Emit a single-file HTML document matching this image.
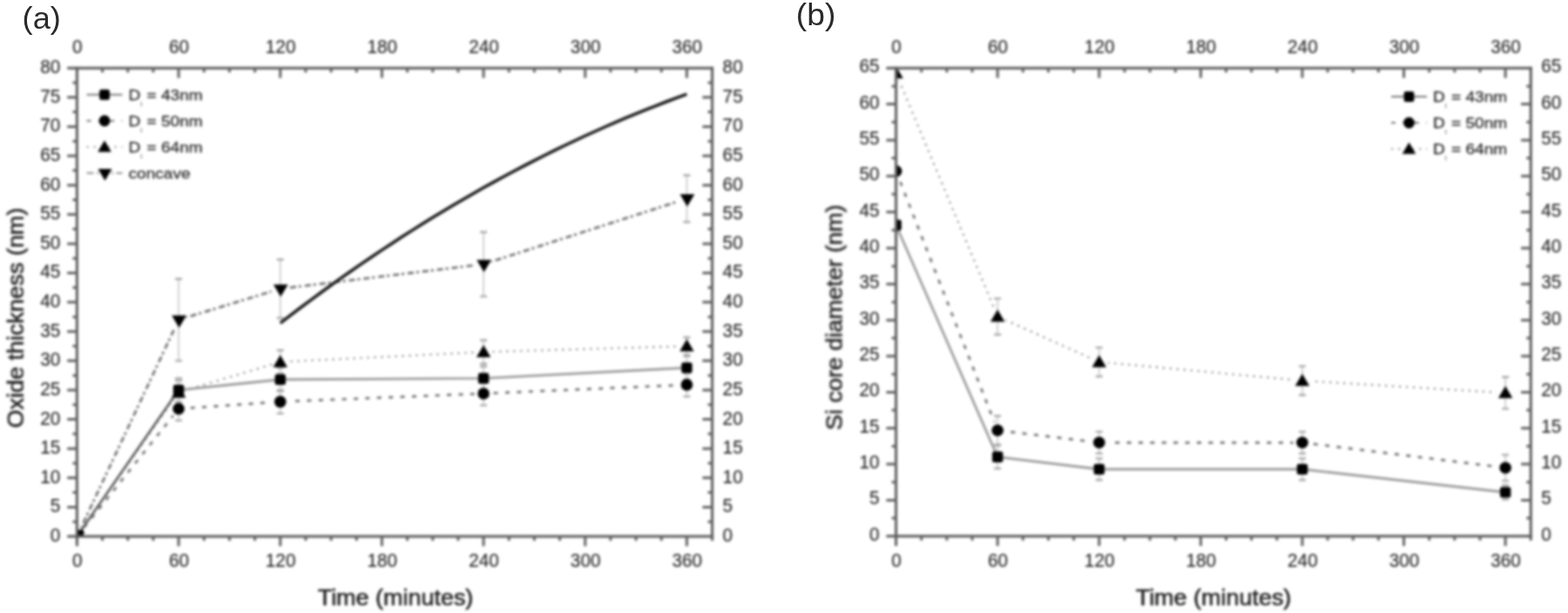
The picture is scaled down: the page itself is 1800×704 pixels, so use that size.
<!DOCTYPE html>
<html lang="en">
<head>
<meta charset="utf-8">
<title>Oxide thickness and Si core diameter vs. time</title>
<style>
html,body{margin:0;padding:0;background:#fff;}
body{width:1800px;height:704px;overflow:hidden;font-family:"Liberation Sans", sans-serif;}
svg{display:block;}
</style>
</head>
<body>
<svg width="1800" height="704" viewBox="0 0 1800 704">
<defs><filter id="b" x="0" y="0" width="1800" height="704" filterUnits="userSpaceOnUse" color-interpolation-filters="sRGB"><feGaussianBlur stdDeviation="1.6"/></filter>
<clipPath id="cb"><rect x="1028.6" y="78.2" width="728.7" height="537.6"/></clipPath>
<clipPath id="ca"><rect x="88.4" y="78.2" width="729.2" height="537.8"/></clipPath>
<filter id="bt" x="-20%" y="-30%" width="140%" height="160%" color-interpolation-filters="sRGB"><feGaussianBlur stdDeviation="0.5"/></filter>
</defs>
<g filter="url(#b)">
<rect x="-20" y="-20" width="1840" height="744" fill="#fff"/>
<g clip-path="url(#ca)">
<path d="M88.4 616L205.07 367.27L321.74 331.64L555.09 303.4L788.43 228.11" stroke="#707070" stroke-width="2.7" fill="none" stroke-dasharray="7 3 3 4"/>
<path d="M88.4 616L205.07 450.63L321.74 415.67L555.09 404.24L788.43 397.52" stroke="#8a8a8a" stroke-width="2.1" fill="none" stroke-dasharray="2.2 5.8"/>
<path d="M88.4 616L205.07 469.45L321.74 461.38L555.09 451.97L788.43 441.89" stroke="#707070" stroke-width="2.7" fill="none" stroke-dasharray="5 8.4"/>
<g fill="#fff"><circle cx="88.4" cy="619" r="10.5"/><circle cx="205.07" cy="370.27" r="10.5"/><circle cx="321.74" cy="334.64" r="10.5"/><circle cx="555.09" cy="306.4" r="10.5"/><circle cx="788.43" cy="231.11" r="10.5"/></g>
<g fill="#fff"><circle cx="88.4" cy="615" r="10.5"/><circle cx="205.07" cy="449.63" r="10.5"/><circle cx="321.74" cy="414.67" r="10.5"/><circle cx="555.09" cy="403.24" r="10.5"/><circle cx="788.43" cy="396.52" r="10.5"/></g>
<g fill="#fff"><circle cx="88.4" cy="616" r="10.5"/><circle cx="205.07" cy="469.45" r="10.5"/><circle cx="321.74" cy="461.38" r="10.5"/><circle cx="555.09" cy="451.97" r="10.5"/><circle cx="788.43" cy="441.89" r="10.5"/></g>
<path d="M205.07 320.21V414.33" stroke="#cdcdcd" stroke-width="1.8" fill="none"/><path d="M201.07 320.21h8M201.07 414.33h8" stroke="#a8a8a8" stroke-width="2.4" fill="none"/>
<path d="M321.74 298.03V365.25" stroke="#cdcdcd" stroke-width="1.8" fill="none"/><path d="M317.74 298.03h8M317.74 365.25h8" stroke="#a8a8a8" stroke-width="2.4" fill="none"/>
<path d="M555.09 266.43V340.38" stroke="#cdcdcd" stroke-width="1.8" fill="none"/><path d="M551.09 266.43h8M551.09 340.38h8" stroke="#a8a8a8" stroke-width="2.4" fill="none"/>
<path d="M788.43 201.22V255" stroke="#cdcdcd" stroke-width="1.8" fill="none"/><path d="M784.43 201.22h8M784.43 255h8" stroke="#a8a8a8" stroke-width="2.4" fill="none"/>
<path d="M205.07 437.18V464.07" stroke="#cdcdcd" stroke-width="1.8" fill="none"/><path d="M201.07 437.18h8M201.07 464.07h8" stroke="#a8a8a8" stroke-width="2.4" fill="none"/>
<path d="M321.74 402.22V429.11" stroke="#cdcdcd" stroke-width="1.8" fill="none"/><path d="M317.74 402.22h8M317.74 429.11h8" stroke="#a8a8a8" stroke-width="2.4" fill="none"/>
<path d="M555.09 390.8V417.69" stroke="#cdcdcd" stroke-width="1.8" fill="none"/><path d="M551.09 390.8h8M551.09 417.69h8" stroke="#a8a8a8" stroke-width="2.4" fill="none"/>
<path d="M788.43 387.44V407.6" stroke="#cdcdcd" stroke-width="1.8" fill="none"/><path d="M784.43 387.44h8M784.43 407.6h8" stroke="#a8a8a8" stroke-width="2.4" fill="none"/>
<path d="M205.07 456V482.89" stroke="#cdcdcd" stroke-width="1.8" fill="none"/><path d="M201.07 456h8M201.07 482.89h8" stroke="#a8a8a8" stroke-width="2.4" fill="none"/>
<path d="M321.74 447.94V474.83" stroke="#cdcdcd" stroke-width="1.8" fill="none"/><path d="M317.74 447.94h8M317.74 474.83h8" stroke="#a8a8a8" stroke-width="2.4" fill="none"/>
<path d="M555.09 438.53V465.42" stroke="#cdcdcd" stroke-width="1.8" fill="none"/><path d="M551.09 438.53h8M551.09 465.42h8" stroke="#a8a8a8" stroke-width="2.4" fill="none"/>
<path d="M788.43 428.44V455.33" stroke="#cdcdcd" stroke-width="1.8" fill="none"/><path d="M784.43 428.44h8M784.43 455.33h8" stroke="#a8a8a8" stroke-width="2.4" fill="none"/>
<path d="M205.07 434.49V461.38" stroke="#cdcdcd" stroke-width="1.8" fill="none"/><path d="M201.07 434.49h8M201.07 461.38h8" stroke="#a8a8a8" stroke-width="2.4" fill="none"/>
<path d="M321.74 422.39V449.28" stroke="#cdcdcd" stroke-width="1.8" fill="none"/><path d="M317.74 422.39h8M317.74 449.28h8" stroke="#a8a8a8" stroke-width="2.4" fill="none"/>
<path d="M555.09 421.05V447.94" stroke="#cdcdcd" stroke-width="1.8" fill="none"/><path d="M551.09 421.05h8M551.09 447.94h8" stroke="#a8a8a8" stroke-width="2.4" fill="none"/>
<path d="M788.43 408.95V435.84" stroke="#cdcdcd" stroke-width="1.8" fill="none"/><path d="M784.43 408.95h8M784.43 435.84h8" stroke="#a8a8a8" stroke-width="2.4" fill="none"/>
<path d="M88.4 616L205.07 447.94L321.74 435.84L555.09 434.49L788.43 422.39" stroke="#959595" stroke-width="2.6" fill="none"/>
<g fill="#000"><path d="M88.9 625.2L97.3 611H80.5Z"/><path d="M205.57 376.47L213.97 362.27H197.17Z"/><path d="M322.24 340.84L330.64 326.64H313.84Z"/><path d="M555.59 312.6L563.99 298.4H547.19Z"/><path d="M788.93 237.31L797.33 223.11H780.53Z"/></g>
<g fill="#000"><path d="M88.4 608L96.6 622H80.2Z"/><path d="M205.07 442.63L213.27 456.63H196.87Z"/><path d="M321.74 407.67L329.94 421.67H313.54Z"/><path d="M555.09 396.24L563.29 410.24H546.89Z"/><path d="M788.43 389.52L796.63 403.52H780.23Z"/></g>
<g fill="#000"><circle cx="88.4" cy="616" r="6.8"/><circle cx="205.07" cy="469.45" r="6.8"/><circle cx="321.74" cy="461.38" r="6.8"/><circle cx="555.09" cy="451.97" r="6.8"/><circle cx="788.43" cy="441.89" r="6.8"/></g>
<g fill="#000"><rect x="82.2" y="609.8" width="12.4" height="12.4" rx="2.5"/><rect x="198.87" y="441.74" width="12.4" height="12.4" rx="2.5"/><rect x="315.54" y="429.64" width="12.4" height="12.4" rx="2.5"/><rect x="548.89" y="428.29" width="12.4" height="12.4" rx="2.5"/><rect x="782.23" y="416.19" width="12.4" height="12.4" rx="2.5"/></g>
<path d="M88.4 616L199.24 456.34" stroke="#555" stroke-width="2.2" fill="none"/>
<rect x="88.4" y="608.4" width="7.6" height="7.6" rx="1.5" fill="#000"/>
<path d="M321.74 371.07L333.41 362.1L345.08 353.27L356.75 344.56L368.41 335.98L380.08 327.52L391.75 319.2L403.41 310.99L415.08 302.91L426.75 294.96L438.42 287.13L450.08 279.42L461.75 271.84L473.42 264.38L485.08 257.05L496.75 249.83L508.42 242.74L520.09 235.77L531.75 228.92L543.42 222.19L555.09 215.58L566.76 209.1L578.42 202.73L590.09 196.48L601.76 190.35L613.42 184.33L625.09 178.44L636.76 172.66L648.43 167L660.09 161.46L671.76 156.03L683.43 150.72L695.09 145.52L706.76 140.44L718.43 135.47L730.1 130.62L741.76 125.88L753.43 121.26L765.1 116.75L776.76 112.35L788.43 108.06" stroke="#161616" stroke-width="3.5" fill="none"/>
</g>
<g stroke="#5a5a5a" stroke-width="3.0" fill="none" stroke-linecap="butt">
<path d="M77.2 78.2H819.1"/>
<path d="M77.2 616H819.1"/>
<path d="M88.4 76.7V627.2"/>
<path d="M817.6 76.7V621"/>
</g>
<g stroke="#626262" stroke-width="3.0" fill="none">
<path d="M117.57 78.2v5M117.57 616v5M146.74 78.2v5M146.74 616v5M175.9 78.2v5M175.9 616v5M205.07 78.2v11.2M205.07 616v11.2M234.24 78.2v5M234.24 616v5M263.41 78.2v5M263.41 616v5M292.58 78.2v5M292.58 616v5M321.74 78.2v11.2M321.74 616v11.2M350.91 78.2v5M350.91 616v5M380.08 78.2v5M380.08 616v5M409.25 78.2v5M409.25 616v5M438.42 78.2v11.2M438.42 616v11.2M467.58 78.2v5M467.58 616v5M496.75 78.2v5M496.75 616v5M525.92 78.2v5M525.92 616v5M555.09 78.2v11.2M555.09 616v11.2M584.26 78.2v5M584.26 616v5M613.42 78.2v5M613.42 616v5M642.59 78.2v5M642.59 616v5M671.76 78.2v11.2M671.76 616v11.2M700.93 78.2v5M700.93 616v5M730.1 78.2v5M730.1 616v5M759.26 78.2v5M759.26 616v5M788.43 78.2v11.2M788.43 616v11.2M88.4 599.19h-5M817.6 599.19h-5M88.4 582.39h-11.2M817.6 582.39h-11.2M88.4 565.58h-5M817.6 565.58h-5M88.4 548.77h-11.2M817.6 548.77h-11.2M88.4 531.97h-5M817.6 531.97h-5M88.4 515.16h-11.2M817.6 515.16h-11.2M88.4 498.36h-5M817.6 498.36h-5M88.4 481.55h-11.2M817.6 481.55h-11.2M88.4 464.74h-5M817.6 464.74h-5M88.4 447.94h-11.2M817.6 447.94h-11.2M88.4 431.13h-5M817.6 431.13h-5M88.4 414.33h-11.2M817.6 414.33h-11.2M88.4 397.52h-5M817.6 397.52h-5M88.4 380.71h-11.2M817.6 380.71h-11.2M88.4 363.91h-5M817.6 363.91h-5M88.4 347.1h-11.2M817.6 347.1h-11.2M88.4 330.29h-5M817.6 330.29h-5M88.4 313.49h-11.2M817.6 313.49h-11.2M88.4 296.68h-5M817.6 296.68h-5M88.4 279.88h-11.2M817.6 279.88h-11.2M88.4 263.07h-5M817.6 263.07h-5M88.4 246.26h-11.2M817.6 246.26h-11.2M88.4 229.46h-5M817.6 229.46h-5M88.4 212.65h-11.2M817.6 212.65h-11.2M88.4 195.84h-5M817.6 195.84h-5M88.4 179.04h-11.2M817.6 179.04h-11.2M88.4 162.23h-5M817.6 162.23h-5M88.4 145.43h-11.2M817.6 145.43h-11.2M88.4 128.62h-5M817.6 128.62h-5M88.4 111.81h-11.2M817.6 111.81h-11.2M88.4 95.01h-5M817.6 95.01h-5"/>
</g>
<text filter="url(#bt)" transform="translate(88.8 61) scale(0.935 1)" text-anchor="middle" font-family='"Liberation Sans", sans-serif' font-size="22.2" fill="#222" stroke="#222" stroke-width="0.15" stroke-linejoin="round">0</text>
<text filter="url(#bt)" transform="translate(88.8 651.2) scale(0.935 1)" text-anchor="middle" font-family='"Liberation Sans", sans-serif' font-size="22.2" fill="#222" stroke="#222" stroke-width="0.15" stroke-linejoin="round">0</text>
<text filter="url(#bt)" transform="translate(205.47 61) scale(0.935 1)" text-anchor="middle" font-family='"Liberation Sans", sans-serif' font-size="22.2" fill="#222" stroke="#222" stroke-width="0.15" stroke-linejoin="round">60</text>
<text filter="url(#bt)" transform="translate(205.47 651.2) scale(0.935 1)" text-anchor="middle" font-family='"Liberation Sans", sans-serif' font-size="22.2" fill="#222" stroke="#222" stroke-width="0.15" stroke-linejoin="round">60</text>
<text filter="url(#bt)" transform="translate(322.14 61) scale(0.935 1)" text-anchor="middle" font-family='"Liberation Sans", sans-serif' font-size="22.2" fill="#222" stroke="#222" stroke-width="0.15" stroke-linejoin="round">120</text>
<text filter="url(#bt)" transform="translate(322.14 651.2) scale(0.935 1)" text-anchor="middle" font-family='"Liberation Sans", sans-serif' font-size="22.2" fill="#222" stroke="#222" stroke-width="0.15" stroke-linejoin="round">120</text>
<text filter="url(#bt)" transform="translate(438.82 61) scale(0.935 1)" text-anchor="middle" font-family='"Liberation Sans", sans-serif' font-size="22.2" fill="#222" stroke="#222" stroke-width="0.15" stroke-linejoin="round">180</text>
<text filter="url(#bt)" transform="translate(438.82 651.2) scale(0.935 1)" text-anchor="middle" font-family='"Liberation Sans", sans-serif' font-size="22.2" fill="#222" stroke="#222" stroke-width="0.15" stroke-linejoin="round">180</text>
<text filter="url(#bt)" transform="translate(555.49 61) scale(0.935 1)" text-anchor="middle" font-family='"Liberation Sans", sans-serif' font-size="22.2" fill="#222" stroke="#222" stroke-width="0.15" stroke-linejoin="round">240</text>
<text filter="url(#bt)" transform="translate(555.49 651.2) scale(0.935 1)" text-anchor="middle" font-family='"Liberation Sans", sans-serif' font-size="22.2" fill="#222" stroke="#222" stroke-width="0.15" stroke-linejoin="round">240</text>
<text filter="url(#bt)" transform="translate(672.16 61) scale(0.935 1)" text-anchor="middle" font-family='"Liberation Sans", sans-serif' font-size="22.2" fill="#222" stroke="#222" stroke-width="0.15" stroke-linejoin="round">300</text>
<text filter="url(#bt)" transform="translate(672.16 651.2) scale(0.935 1)" text-anchor="middle" font-family='"Liberation Sans", sans-serif' font-size="22.2" fill="#222" stroke="#222" stroke-width="0.15" stroke-linejoin="round">300</text>
<text filter="url(#bt)" transform="translate(788.83 61) scale(0.935 1)" text-anchor="middle" font-family='"Liberation Sans", sans-serif' font-size="22.2" fill="#222" stroke="#222" stroke-width="0.15" stroke-linejoin="round">360</text>
<text filter="url(#bt)" transform="translate(788.83 651.2) scale(0.935 1)" text-anchor="middle" font-family='"Liberation Sans", sans-serif' font-size="22.2" fill="#222" stroke="#222" stroke-width="0.15" stroke-linejoin="round">360</text>
<text filter="url(#bt)" transform="translate(69.4 621.95) scale(0.935 1)" text-anchor="end" font-family='"Liberation Sans", sans-serif' font-size="22.2" fill="#222" stroke="#222" stroke-width="0.15" stroke-linejoin="round">0</text>
<text filter="url(#bt)" transform="translate(829.6 621.95) scale(0.935 1)" text-anchor="start" font-family='"Liberation Sans", sans-serif' font-size="22.2" fill="#222" stroke="#222" stroke-width="0.15" stroke-linejoin="round">0</text>
<text filter="url(#bt)" transform="translate(69.4 588.34) scale(0.935 1)" text-anchor="end" font-family='"Liberation Sans", sans-serif' font-size="22.2" fill="#222" stroke="#222" stroke-width="0.15" stroke-linejoin="round">5</text>
<text filter="url(#bt)" transform="translate(829.6 588.34) scale(0.935 1)" text-anchor="start" font-family='"Liberation Sans", sans-serif' font-size="22.2" fill="#222" stroke="#222" stroke-width="0.15" stroke-linejoin="round">5</text>
<text filter="url(#bt)" transform="translate(69.4 554.72) scale(0.935 1)" text-anchor="end" font-family='"Liberation Sans", sans-serif' font-size="22.2" fill="#222" stroke="#222" stroke-width="0.15" stroke-linejoin="round">10</text>
<text filter="url(#bt)" transform="translate(829.6 554.72) scale(0.935 1)" text-anchor="start" font-family='"Liberation Sans", sans-serif' font-size="22.2" fill="#222" stroke="#222" stroke-width="0.15" stroke-linejoin="round">10</text>
<text filter="url(#bt)" transform="translate(69.4 521.11) scale(0.935 1)" text-anchor="end" font-family='"Liberation Sans", sans-serif' font-size="22.2" fill="#222" stroke="#222" stroke-width="0.15" stroke-linejoin="round">15</text>
<text filter="url(#bt)" transform="translate(829.6 521.11) scale(0.935 1)" text-anchor="start" font-family='"Liberation Sans", sans-serif' font-size="22.2" fill="#222" stroke="#222" stroke-width="0.15" stroke-linejoin="round">15</text>
<text filter="url(#bt)" transform="translate(69.4 487.5) scale(0.935 1)" text-anchor="end" font-family='"Liberation Sans", sans-serif' font-size="22.2" fill="#222" stroke="#222" stroke-width="0.15" stroke-linejoin="round">20</text>
<text filter="url(#bt)" transform="translate(829.6 487.5) scale(0.935 1)" text-anchor="start" font-family='"Liberation Sans", sans-serif' font-size="22.2" fill="#222" stroke="#222" stroke-width="0.15" stroke-linejoin="round">20</text>
<text filter="url(#bt)" transform="translate(69.4 453.89) scale(0.935 1)" text-anchor="end" font-family='"Liberation Sans", sans-serif' font-size="22.2" fill="#222" stroke="#222" stroke-width="0.15" stroke-linejoin="round">25</text>
<text filter="url(#bt)" transform="translate(829.6 453.89) scale(0.935 1)" text-anchor="start" font-family='"Liberation Sans", sans-serif' font-size="22.2" fill="#222" stroke="#222" stroke-width="0.15" stroke-linejoin="round">25</text>
<text filter="url(#bt)" transform="translate(69.4 420.27) scale(0.935 1)" text-anchor="end" font-family='"Liberation Sans", sans-serif' font-size="22.2" fill="#222" stroke="#222" stroke-width="0.15" stroke-linejoin="round">30</text>
<text filter="url(#bt)" transform="translate(829.6 420.27) scale(0.935 1)" text-anchor="start" font-family='"Liberation Sans", sans-serif' font-size="22.2" fill="#222" stroke="#222" stroke-width="0.15" stroke-linejoin="round">30</text>
<text filter="url(#bt)" transform="translate(69.4 386.66) scale(0.935 1)" text-anchor="end" font-family='"Liberation Sans", sans-serif' font-size="22.2" fill="#222" stroke="#222" stroke-width="0.15" stroke-linejoin="round">35</text>
<text filter="url(#bt)" transform="translate(829.6 386.66) scale(0.935 1)" text-anchor="start" font-family='"Liberation Sans", sans-serif' font-size="22.2" fill="#222" stroke="#222" stroke-width="0.15" stroke-linejoin="round">35</text>
<text filter="url(#bt)" transform="translate(69.4 353.05) scale(0.935 1)" text-anchor="end" font-family='"Liberation Sans", sans-serif' font-size="22.2" fill="#222" stroke="#222" stroke-width="0.15" stroke-linejoin="round">40</text>
<text filter="url(#bt)" transform="translate(829.6 353.05) scale(0.935 1)" text-anchor="start" font-family='"Liberation Sans", sans-serif' font-size="22.2" fill="#222" stroke="#222" stroke-width="0.15" stroke-linejoin="round">40</text>
<text filter="url(#bt)" transform="translate(69.4 319.44) scale(0.935 1)" text-anchor="end" font-family='"Liberation Sans", sans-serif' font-size="22.2" fill="#222" stroke="#222" stroke-width="0.15" stroke-linejoin="round">45</text>
<text filter="url(#bt)" transform="translate(829.6 319.44) scale(0.935 1)" text-anchor="start" font-family='"Liberation Sans", sans-serif' font-size="22.2" fill="#222" stroke="#222" stroke-width="0.15" stroke-linejoin="round">45</text>
<text filter="url(#bt)" transform="translate(69.4 285.82) scale(0.935 1)" text-anchor="end" font-family='"Liberation Sans", sans-serif' font-size="22.2" fill="#222" stroke="#222" stroke-width="0.15" stroke-linejoin="round">50</text>
<text filter="url(#bt)" transform="translate(829.6 285.82) scale(0.935 1)" text-anchor="start" font-family='"Liberation Sans", sans-serif' font-size="22.2" fill="#222" stroke="#222" stroke-width="0.15" stroke-linejoin="round">50</text>
<text filter="url(#bt)" transform="translate(69.4 252.21) scale(0.935 1)" text-anchor="end" font-family='"Liberation Sans", sans-serif' font-size="22.2" fill="#222" stroke="#222" stroke-width="0.15" stroke-linejoin="round">55</text>
<text filter="url(#bt)" transform="translate(829.6 252.21) scale(0.935 1)" text-anchor="start" font-family='"Liberation Sans", sans-serif' font-size="22.2" fill="#222" stroke="#222" stroke-width="0.15" stroke-linejoin="round">55</text>
<text filter="url(#bt)" transform="translate(69.4 218.6) scale(0.935 1)" text-anchor="end" font-family='"Liberation Sans", sans-serif' font-size="22.2" fill="#222" stroke="#222" stroke-width="0.15" stroke-linejoin="round">60</text>
<text filter="url(#bt)" transform="translate(829.6 218.6) scale(0.935 1)" text-anchor="start" font-family='"Liberation Sans", sans-serif' font-size="22.2" fill="#222" stroke="#222" stroke-width="0.15" stroke-linejoin="round">60</text>
<text filter="url(#bt)" transform="translate(69.4 184.99) scale(0.935 1)" text-anchor="end" font-family='"Liberation Sans", sans-serif' font-size="22.2" fill="#222" stroke="#222" stroke-width="0.15" stroke-linejoin="round">65</text>
<text filter="url(#bt)" transform="translate(829.6 184.99) scale(0.935 1)" text-anchor="start" font-family='"Liberation Sans", sans-serif' font-size="22.2" fill="#222" stroke="#222" stroke-width="0.15" stroke-linejoin="round">65</text>
<text filter="url(#bt)" transform="translate(69.4 151.37) scale(0.935 1)" text-anchor="end" font-family='"Liberation Sans", sans-serif' font-size="22.2" fill="#222" stroke="#222" stroke-width="0.15" stroke-linejoin="round">70</text>
<text filter="url(#bt)" transform="translate(829.6 151.37) scale(0.935 1)" text-anchor="start" font-family='"Liberation Sans", sans-serif' font-size="22.2" fill="#222" stroke="#222" stroke-width="0.15" stroke-linejoin="round">70</text>
<text filter="url(#bt)" transform="translate(69.4 117.76) scale(0.935 1)" text-anchor="end" font-family='"Liberation Sans", sans-serif' font-size="22.2" fill="#222" stroke="#222" stroke-width="0.15" stroke-linejoin="round">75</text>
<text filter="url(#bt)" transform="translate(829.6 117.76) scale(0.935 1)" text-anchor="start" font-family='"Liberation Sans", sans-serif' font-size="22.2" fill="#222" stroke="#222" stroke-width="0.15" stroke-linejoin="round">75</text>
<text filter="url(#bt)" transform="translate(69.4 84.15) scale(0.935 1)" text-anchor="end" font-family='"Liberation Sans", sans-serif' font-size="22.2" fill="#222" stroke="#222" stroke-width="0.15" stroke-linejoin="round">80</text>
<text filter="url(#bt)" transform="translate(829.6 84.15) scale(0.935 1)" text-anchor="start" font-family='"Liberation Sans", sans-serif' font-size="22.2" fill="#222" stroke="#222" stroke-width="0.15" stroke-linejoin="round">80</text>
<path d="M99.5 108.75h41" stroke="#777" stroke-width="2" fill="none"/>
<g fill="#000"><rect x="114.11" y="102.86" width="11.78" height="11.78" rx="2.5"/></g>
<text filter="url(#bt)" transform="translate(147.5 115.15) scale(1.11 1)" text-anchor="start" font-family='"Liberation Sans", sans-serif' font-size="17.2" fill="#2a2a2a" stroke="#2a2a2a" stroke-width="0.3" stroke-linejoin="round">D<tspan font-size="8" fill-opacity="0.65" stroke-opacity="0.3" dy="7">i</tspan><tspan dy="-7"> = 43nm</tspan></text>
<path d="M99.5 138.75h41" stroke="#777" stroke-width="2" fill="none" stroke-dasharray="5 8.4"/>
<g fill="#000"><circle cx="120" cy="138.75" r="6.46"/></g>
<text filter="url(#bt)" transform="translate(147.5 145.15) scale(1.11 1)" text-anchor="start" font-family='"Liberation Sans", sans-serif' font-size="17.2" fill="#2a2a2a" stroke="#2a2a2a" stroke-width="0.3" stroke-linejoin="round">D<tspan font-size="8" fill-opacity="0.65" stroke-opacity="0.3" dy="7">i</tspan><tspan dy="-7"> = 50nm</tspan></text>
<path d="M99.5 168.75h41" stroke="#999" stroke-width="2" fill="none" stroke-dasharray="2.2 5.8"/>
<g fill="#000"><path d="M120 161.15L127.79 174.45H112.21Z"/></g>
<text filter="url(#bt)" transform="translate(147.5 175.15) scale(1.11 1)" text-anchor="start" font-family='"Liberation Sans", sans-serif' font-size="17.2" fill="#2a2a2a" stroke="#2a2a2a" stroke-width="0.3" stroke-linejoin="round">D<tspan font-size="8" fill-opacity="0.65" stroke-opacity="0.3" dy="7">i</tspan><tspan dy="-7"> = 64nm</tspan></text>
<path d="M99.5 198.75h41" stroke="#909090" stroke-width="2" fill="none" stroke-dasharray="8 3.5 2 3.5"/>
<g fill="#000"><path d="M120.5 207.49L128.49 194H112.51Z"/></g>
<text filter="url(#bt)" transform="translate(147.5 205.15) scale(1.11 1)" text-anchor="start" font-family='"Liberation Sans", sans-serif' font-size="17.2" fill="#2a2a2a" stroke="#2a2a2a" stroke-width="0.3" stroke-linejoin="round">concave</text>
<text filter="url(#bt)" transform="translate(454 694.6) scale(1.07 1)" text-anchor="middle" font-family='"Liberation Sans", sans-serif' font-size="25.2" fill="#222" stroke="#222" stroke-width="0.6" stroke-linejoin="round">Time (minutes)</text>
<text filter="url(#bt)" transform="translate(26.7 365) rotate(-90) scale(1.07 1)" text-anchor="middle" font-family='"Liberation Sans", sans-serif' font-size="25.2" fill="#222" stroke="#222" stroke-width="0.6" stroke-linejoin="round">Oxide thickness (nm)</text>
<g clip-path="url(#cb)">
<path d="M1028.6 83.99L1145.19 363.54L1261.78 415.65L1494.97 437.15L1728.15 451.21" stroke="#8a8a8a" stroke-width="2.1" fill="none" stroke-dasharray="2.2 5.8"/>
<path d="M1028.6 196.47L1145.19 494.22L1261.78 508.28L1494.97 508.28L1728.15 537.23" stroke="#707070" stroke-width="2.7" fill="none" stroke-dasharray="5 8.4"/>
<g fill="#fff"><circle cx="1028.6" cy="82.99" r="10.5"/><circle cx="1145.19" cy="362.54" r="10.5"/><circle cx="1261.78" cy="414.65" r="10.5"/><circle cx="1494.97" cy="436.15" r="10.5"/><circle cx="1728.15" cy="450.21" r="10.5"/></g>
<g fill="#fff"><circle cx="1028.6" cy="196.47" r="10.5"/><circle cx="1145.19" cy="494.22" r="10.5"/><circle cx="1261.78" cy="508.28" r="10.5"/><circle cx="1494.97" cy="508.28" r="10.5"/><circle cx="1728.15" cy="537.23" r="10.5"/></g>
<path d="M1145.19 342.86V384.22" stroke="#cdcdcd" stroke-width="1.8" fill="none"/><path d="M1141.19 342.86h8M1141.19 384.22h8" stroke="#a8a8a8" stroke-width="2.4" fill="none"/>
<path d="M1261.78 399.11V432.19" stroke="#cdcdcd" stroke-width="1.8" fill="none"/><path d="M1257.78 399.11h8M1257.78 432.19h8" stroke="#a8a8a8" stroke-width="2.4" fill="none"/>
<path d="M1494.97 420.61V453.69" stroke="#cdcdcd" stroke-width="1.8" fill="none"/><path d="M1490.97 420.61h8M1490.97 453.69h8" stroke="#a8a8a8" stroke-width="2.4" fill="none"/>
<path d="M1728.15 433.02V469.41" stroke="#cdcdcd" stroke-width="1.8" fill="none"/><path d="M1724.15 433.02h8M1724.15 469.41h8" stroke="#a8a8a8" stroke-width="2.4" fill="none"/>
<path d="M1145.19 477.68V510.76" stroke="#cdcdcd" stroke-width="1.8" fill="none"/><path d="M1141.19 477.68h8M1141.19 510.76h8" stroke="#a8a8a8" stroke-width="2.4" fill="none"/>
<path d="M1261.78 495.87V520.69" stroke="#cdcdcd" stroke-width="1.8" fill="none"/><path d="M1257.78 495.87h8M1257.78 520.69h8" stroke="#a8a8a8" stroke-width="2.4" fill="none"/>
<path d="M1494.97 495.87V520.69" stroke="#cdcdcd" stroke-width="1.8" fill="none"/><path d="M1490.97 495.87h8M1490.97 520.69h8" stroke="#a8a8a8" stroke-width="2.4" fill="none"/>
<path d="M1728.15 522.34V552.12" stroke="#cdcdcd" stroke-width="1.8" fill="none"/><path d="M1724.15 522.34h8M1724.15 552.12h8" stroke="#a8a8a8" stroke-width="2.4" fill="none"/>
<path d="M1145.19 511.59V538.05" stroke="#cdcdcd" stroke-width="1.8" fill="none"/><path d="M1141.19 511.59h8M1141.19 538.05h8" stroke="#a8a8a8" stroke-width="2.4" fill="none"/>
<path d="M1261.78 526.48V551.29" stroke="#cdcdcd" stroke-width="1.8" fill="none"/><path d="M1257.78 526.48h8M1257.78 551.29h8" stroke="#a8a8a8" stroke-width="2.4" fill="none"/>
<path d="M1494.97 526.48V551.29" stroke="#cdcdcd" stroke-width="1.8" fill="none"/><path d="M1490.97 526.48h8M1490.97 551.29h8" stroke="#a8a8a8" stroke-width="2.4" fill="none"/>
<path d="M1728.15 557.08V573.62" stroke="#cdcdcd" stroke-width="1.8" fill="none"/><path d="M1724.15 557.08h8M1724.15 573.62h8" stroke="#a8a8a8" stroke-width="2.4" fill="none"/>
<path d="M1028.6 258.5L1145.19 524.82L1261.78 538.88L1494.97 538.88L1728.15 565.35" stroke="#959595" stroke-width="2.6" fill="none"/>
<g fill="#000"><path d="M1028.6 75.99L1036.8 89.99H1020.4Z"/><path d="M1145.19 355.54L1153.39 369.54H1136.99Z"/><path d="M1261.78 407.65L1269.98 421.65H1253.58Z"/><path d="M1494.97 429.15L1503.17 443.15H1486.77Z"/><path d="M1728.15 443.21L1736.35 457.21H1719.95Z"/></g>
<g fill="#000"><circle cx="1028.6" cy="196.47" r="6.8"/><circle cx="1145.19" cy="494.22" r="6.8"/><circle cx="1261.78" cy="508.28" r="6.8"/><circle cx="1494.97" cy="508.28" r="6.8"/><circle cx="1728.15" cy="537.23" r="6.8"/></g>
<g fill="#000"><rect x="1022.4" y="252.3" width="12.4" height="12.4" rx="2.5"/><rect x="1138.99" y="518.62" width="12.4" height="12.4" rx="2.5"/><rect x="1255.58" y="532.68" width="12.4" height="12.4" rx="2.5"/><rect x="1488.77" y="532.68" width="12.4" height="12.4" rx="2.5"/><rect x="1721.95" y="559.15" width="12.4" height="12.4" rx="2.5"/></g>
</g>
<g stroke="#5a5a5a" stroke-width="3.0" fill="none" stroke-linecap="butt">
<path d="M1017.4 78.2H1758.8"/>
<path d="M1017.4 615.8H1758.8"/>
<path d="M1028.6 76.7V627"/>
<path d="M1757.3 76.7V620.8"/>
</g>
<g stroke="#626262" stroke-width="3.0" fill="none">
<path d="M1057.75 78.2v5M1057.75 615.8v5M1086.9 78.2v5M1086.9 615.8v5M1116.04 78.2v5M1116.04 615.8v5M1145.19 78.2v11.2M1145.19 615.8v11.2M1174.34 78.2v5M1174.34 615.8v5M1203.49 78.2v5M1203.49 615.8v5M1232.64 78.2v5M1232.64 615.8v5M1261.78 78.2v11.2M1261.78 615.8v11.2M1290.93 78.2v5M1290.93 615.8v5M1320.08 78.2v5M1320.08 615.8v5M1349.23 78.2v5M1349.23 615.8v5M1378.38 78.2v11.2M1378.38 615.8v11.2M1407.52 78.2v5M1407.52 615.8v5M1436.67 78.2v5M1436.67 615.8v5M1465.82 78.2v5M1465.82 615.8v5M1494.97 78.2v11.2M1494.97 615.8v11.2M1524.12 78.2v5M1524.12 615.8v5M1553.26 78.2v5M1553.26 615.8v5M1582.41 78.2v5M1582.41 615.8v5M1611.56 78.2v11.2M1611.56 615.8v11.2M1640.71 78.2v5M1640.71 615.8v5M1669.86 78.2v5M1669.86 615.8v5M1699 78.2v5M1699 615.8v5M1728.15 78.2v11.2M1728.15 615.8v11.2M1028.6 595.12h-5M1757.3 595.12h-5M1028.6 574.45h-11.2M1757.3 574.45h-11.2M1028.6 553.77h-5M1757.3 553.77h-5M1028.6 533.09h-11.2M1757.3 533.09h-11.2M1028.6 512.42h-5M1757.3 512.42h-5M1028.6 491.74h-11.2M1757.3 491.74h-11.2M1028.6 471.06h-5M1757.3 471.06h-5M1028.6 450.38h-11.2M1757.3 450.38h-11.2M1028.6 429.71h-5M1757.3 429.71h-5M1028.6 409.03h-11.2M1757.3 409.03h-11.2M1028.6 388.35h-5M1757.3 388.35h-5M1028.6 367.68h-11.2M1757.3 367.68h-11.2M1028.6 347h-5M1757.3 347h-5M1028.6 326.32h-11.2M1757.3 326.32h-11.2M1028.6 305.65h-5M1757.3 305.65h-5M1028.6 284.97h-11.2M1757.3 284.97h-11.2M1028.6 264.29h-5M1757.3 264.29h-5M1028.6 243.62h-11.2M1757.3 243.62h-11.2M1028.6 222.94h-5M1757.3 222.94h-5M1028.6 202.26h-11.2M1757.3 202.26h-11.2M1028.6 181.58h-5M1757.3 181.58h-5M1028.6 160.91h-11.2M1757.3 160.91h-11.2M1028.6 140.23h-5M1757.3 140.23h-5M1028.6 119.55h-11.2M1757.3 119.55h-11.2M1028.6 98.88h-5M1757.3 98.88h-5"/>
</g>
<text filter="url(#bt)" transform="translate(1029 61) scale(0.935 1)" text-anchor="middle" font-family='"Liberation Sans", sans-serif' font-size="22.2" fill="#222" stroke="#222" stroke-width="0.15" stroke-linejoin="round">0</text>
<text filter="url(#bt)" transform="translate(1029 651) scale(0.935 1)" text-anchor="middle" font-family='"Liberation Sans", sans-serif' font-size="22.2" fill="#222" stroke="#222" stroke-width="0.15" stroke-linejoin="round">0</text>
<text filter="url(#bt)" transform="translate(1145.59 61) scale(0.935 1)" text-anchor="middle" font-family='"Liberation Sans", sans-serif' font-size="22.2" fill="#222" stroke="#222" stroke-width="0.15" stroke-linejoin="round">60</text>
<text filter="url(#bt)" transform="translate(1145.59 651) scale(0.935 1)" text-anchor="middle" font-family='"Liberation Sans", sans-serif' font-size="22.2" fill="#222" stroke="#222" stroke-width="0.15" stroke-linejoin="round">60</text>
<text filter="url(#bt)" transform="translate(1262.18 61) scale(0.935 1)" text-anchor="middle" font-family='"Liberation Sans", sans-serif' font-size="22.2" fill="#222" stroke="#222" stroke-width="0.15" stroke-linejoin="round">120</text>
<text filter="url(#bt)" transform="translate(1262.18 651) scale(0.935 1)" text-anchor="middle" font-family='"Liberation Sans", sans-serif' font-size="22.2" fill="#222" stroke="#222" stroke-width="0.15" stroke-linejoin="round">120</text>
<text filter="url(#bt)" transform="translate(1378.78 61) scale(0.935 1)" text-anchor="middle" font-family='"Liberation Sans", sans-serif' font-size="22.2" fill="#222" stroke="#222" stroke-width="0.15" stroke-linejoin="round">180</text>
<text filter="url(#bt)" transform="translate(1378.78 651) scale(0.935 1)" text-anchor="middle" font-family='"Liberation Sans", sans-serif' font-size="22.2" fill="#222" stroke="#222" stroke-width="0.15" stroke-linejoin="round">180</text>
<text filter="url(#bt)" transform="translate(1495.37 61) scale(0.935 1)" text-anchor="middle" font-family='"Liberation Sans", sans-serif' font-size="22.2" fill="#222" stroke="#222" stroke-width="0.15" stroke-linejoin="round">240</text>
<text filter="url(#bt)" transform="translate(1495.37 651) scale(0.935 1)" text-anchor="middle" font-family='"Liberation Sans", sans-serif' font-size="22.2" fill="#222" stroke="#222" stroke-width="0.15" stroke-linejoin="round">240</text>
<text filter="url(#bt)" transform="translate(1611.96 61) scale(0.935 1)" text-anchor="middle" font-family='"Liberation Sans", sans-serif' font-size="22.2" fill="#222" stroke="#222" stroke-width="0.15" stroke-linejoin="round">300</text>
<text filter="url(#bt)" transform="translate(1611.96 651) scale(0.935 1)" text-anchor="middle" font-family='"Liberation Sans", sans-serif' font-size="22.2" fill="#222" stroke="#222" stroke-width="0.15" stroke-linejoin="round">300</text>
<text filter="url(#bt)" transform="translate(1728.55 61) scale(0.935 1)" text-anchor="middle" font-family='"Liberation Sans", sans-serif' font-size="22.2" fill="#222" stroke="#222" stroke-width="0.15" stroke-linejoin="round">360</text>
<text filter="url(#bt)" transform="translate(1728.55 651) scale(0.935 1)" text-anchor="middle" font-family='"Liberation Sans", sans-serif' font-size="22.2" fill="#222" stroke="#222" stroke-width="0.15" stroke-linejoin="round">360</text>
<text filter="url(#bt)" transform="translate(1009.6 620.75) scale(0.935 1)" text-anchor="end" font-family='"Liberation Sans", sans-serif' font-size="22.2" fill="#222" stroke="#222" stroke-width="0.15" stroke-linejoin="round">0</text>
<text filter="url(#bt)" transform="translate(1769.3 620.75) scale(0.935 1)" text-anchor="start" font-family='"Liberation Sans", sans-serif' font-size="22.2" fill="#222" stroke="#222" stroke-width="0.15" stroke-linejoin="round">0</text>
<text filter="url(#bt)" transform="translate(1009.6 579.39) scale(0.935 1)" text-anchor="end" font-family='"Liberation Sans", sans-serif' font-size="22.2" fill="#222" stroke="#222" stroke-width="0.15" stroke-linejoin="round">5</text>
<text filter="url(#bt)" transform="translate(1769.3 579.39) scale(0.935 1)" text-anchor="start" font-family='"Liberation Sans", sans-serif' font-size="22.2" fill="#222" stroke="#222" stroke-width="0.15" stroke-linejoin="round">5</text>
<text filter="url(#bt)" transform="translate(1009.6 538.04) scale(0.935 1)" text-anchor="end" font-family='"Liberation Sans", sans-serif' font-size="22.2" fill="#222" stroke="#222" stroke-width="0.15" stroke-linejoin="round">10</text>
<text filter="url(#bt)" transform="translate(1769.3 538.04) scale(0.935 1)" text-anchor="start" font-family='"Liberation Sans", sans-serif' font-size="22.2" fill="#222" stroke="#222" stroke-width="0.15" stroke-linejoin="round">10</text>
<text filter="url(#bt)" transform="translate(1009.6 496.69) scale(0.935 1)" text-anchor="end" font-family='"Liberation Sans", sans-serif' font-size="22.2" fill="#222" stroke="#222" stroke-width="0.15" stroke-linejoin="round">15</text>
<text filter="url(#bt)" transform="translate(1769.3 496.69) scale(0.935 1)" text-anchor="start" font-family='"Liberation Sans", sans-serif' font-size="22.2" fill="#222" stroke="#222" stroke-width="0.15" stroke-linejoin="round">15</text>
<text filter="url(#bt)" transform="translate(1009.6 455.33) scale(0.935 1)" text-anchor="end" font-family='"Liberation Sans", sans-serif' font-size="22.2" fill="#222" stroke="#222" stroke-width="0.15" stroke-linejoin="round">20</text>
<text filter="url(#bt)" transform="translate(1769.3 455.33) scale(0.935 1)" text-anchor="start" font-family='"Liberation Sans", sans-serif' font-size="22.2" fill="#222" stroke="#222" stroke-width="0.15" stroke-linejoin="round">20</text>
<text filter="url(#bt)" transform="translate(1009.6 413.98) scale(0.935 1)" text-anchor="end" font-family='"Liberation Sans", sans-serif' font-size="22.2" fill="#222" stroke="#222" stroke-width="0.15" stroke-linejoin="round">25</text>
<text filter="url(#bt)" transform="translate(1769.3 413.98) scale(0.935 1)" text-anchor="start" font-family='"Liberation Sans", sans-serif' font-size="22.2" fill="#222" stroke="#222" stroke-width="0.15" stroke-linejoin="round">25</text>
<text filter="url(#bt)" transform="translate(1009.6 372.62) scale(0.935 1)" text-anchor="end" font-family='"Liberation Sans", sans-serif' font-size="22.2" fill="#222" stroke="#222" stroke-width="0.15" stroke-linejoin="round">30</text>
<text filter="url(#bt)" transform="translate(1769.3 372.62) scale(0.935 1)" text-anchor="start" font-family='"Liberation Sans", sans-serif' font-size="22.2" fill="#222" stroke="#222" stroke-width="0.15" stroke-linejoin="round">30</text>
<text filter="url(#bt)" transform="translate(1009.6 331.27) scale(0.935 1)" text-anchor="end" font-family='"Liberation Sans", sans-serif' font-size="22.2" fill="#222" stroke="#222" stroke-width="0.15" stroke-linejoin="round">35</text>
<text filter="url(#bt)" transform="translate(1769.3 331.27) scale(0.935 1)" text-anchor="start" font-family='"Liberation Sans", sans-serif' font-size="22.2" fill="#222" stroke="#222" stroke-width="0.15" stroke-linejoin="round">35</text>
<text filter="url(#bt)" transform="translate(1009.6 289.92) scale(0.935 1)" text-anchor="end" font-family='"Liberation Sans", sans-serif' font-size="22.2" fill="#222" stroke="#222" stroke-width="0.15" stroke-linejoin="round">40</text>
<text filter="url(#bt)" transform="translate(1769.3 289.92) scale(0.935 1)" text-anchor="start" font-family='"Liberation Sans", sans-serif' font-size="22.2" fill="#222" stroke="#222" stroke-width="0.15" stroke-linejoin="round">40</text>
<text filter="url(#bt)" transform="translate(1009.6 248.56) scale(0.935 1)" text-anchor="end" font-family='"Liberation Sans", sans-serif' font-size="22.2" fill="#222" stroke="#222" stroke-width="0.15" stroke-linejoin="round">45</text>
<text filter="url(#bt)" transform="translate(1769.3 248.56) scale(0.935 1)" text-anchor="start" font-family='"Liberation Sans", sans-serif' font-size="22.2" fill="#222" stroke="#222" stroke-width="0.15" stroke-linejoin="round">45</text>
<text filter="url(#bt)" transform="translate(1009.6 207.21) scale(0.935 1)" text-anchor="end" font-family='"Liberation Sans", sans-serif' font-size="22.2" fill="#222" stroke="#222" stroke-width="0.15" stroke-linejoin="round">50</text>
<text filter="url(#bt)" transform="translate(1769.3 207.21) scale(0.935 1)" text-anchor="start" font-family='"Liberation Sans", sans-serif' font-size="22.2" fill="#222" stroke="#222" stroke-width="0.15" stroke-linejoin="round">50</text>
<text filter="url(#bt)" transform="translate(1009.6 165.86) scale(0.935 1)" text-anchor="end" font-family='"Liberation Sans", sans-serif' font-size="22.2" fill="#222" stroke="#222" stroke-width="0.15" stroke-linejoin="round">55</text>
<text filter="url(#bt)" transform="translate(1769.3 165.86) scale(0.935 1)" text-anchor="start" font-family='"Liberation Sans", sans-serif' font-size="22.2" fill="#222" stroke="#222" stroke-width="0.15" stroke-linejoin="round">55</text>
<text filter="url(#bt)" transform="translate(1009.6 124.5) scale(0.935 1)" text-anchor="end" font-family='"Liberation Sans", sans-serif' font-size="22.2" fill="#222" stroke="#222" stroke-width="0.15" stroke-linejoin="round">60</text>
<text filter="url(#bt)" transform="translate(1769.3 124.5) scale(0.935 1)" text-anchor="start" font-family='"Liberation Sans", sans-serif' font-size="22.2" fill="#222" stroke="#222" stroke-width="0.15" stroke-linejoin="round">60</text>
<text filter="url(#bt)" transform="translate(1009.6 83.15) scale(0.935 1)" text-anchor="end" font-family='"Liberation Sans", sans-serif' font-size="22.2" fill="#222" stroke="#222" stroke-width="0.15" stroke-linejoin="round">65</text>
<text filter="url(#bt)" transform="translate(1769.3 83.15) scale(0.935 1)" text-anchor="start" font-family='"Liberation Sans", sans-serif' font-size="22.2" fill="#222" stroke="#222" stroke-width="0.15" stroke-linejoin="round">65</text>
<path d="M1597 111h41" stroke="#777" stroke-width="2" fill="none"/>
<g fill="#000"><rect x="1611.61" y="105.11" width="11.78" height="11.78" rx="2.5"/></g>
<text filter="url(#bt)" transform="translate(1645 117.4) scale(1.11 1)" text-anchor="start" font-family='"Liberation Sans", sans-serif' font-size="17.2" fill="#2a2a2a" stroke="#2a2a2a" stroke-width="0.3" stroke-linejoin="round">D<tspan font-size="8" fill-opacity="0.65" stroke-opacity="0.3" dy="7">i</tspan><tspan dy="-7"> = 43nm</tspan></text>
<path d="M1597 141h41" stroke="#777" stroke-width="2" fill="none" stroke-dasharray="5 8.4"/>
<g fill="#000"><circle cx="1617.5" cy="141" r="6.46"/></g>
<text filter="url(#bt)" transform="translate(1645 147.4) scale(1.11 1)" text-anchor="start" font-family='"Liberation Sans", sans-serif' font-size="17.2" fill="#2a2a2a" stroke="#2a2a2a" stroke-width="0.3" stroke-linejoin="round">D<tspan font-size="8" fill-opacity="0.65" stroke-opacity="0.3" dy="7">i</tspan><tspan dy="-7"> = 50nm</tspan></text>
<path d="M1597 171h41" stroke="#999" stroke-width="2" fill="none" stroke-dasharray="2.2 5.8"/>
<g fill="#000"><path d="M1617.5 163.4L1625.29 176.7H1609.71Z"/></g>
<text filter="url(#bt)" transform="translate(1645 177.4) scale(1.11 1)" text-anchor="start" font-family='"Liberation Sans", sans-serif' font-size="17.2" fill="#2a2a2a" stroke="#2a2a2a" stroke-width="0.3" stroke-linejoin="round">D<tspan font-size="8" fill-opacity="0.65" stroke-opacity="0.3" dy="7">i</tspan><tspan dy="-7"> = 64nm</tspan></text>
<text filter="url(#bt)" transform="translate(1393 694.6) scale(1.07 1)" text-anchor="middle" font-family='"Liberation Sans", sans-serif' font-size="25.2" fill="#222" stroke="#222" stroke-width="0.6" stroke-linejoin="round">Time (minutes)</text>
<text filter="url(#bt)" transform="translate(966.5 364.5) rotate(-90) scale(1.07 1)" text-anchor="middle" font-family='"Liberation Sans", sans-serif' font-size="25.2" fill="#222" stroke="#222" stroke-width="0.6" stroke-linejoin="round">Si core diameter (nm)</text>
</g>
<text transform="translate(25.6 33.4) scale(1.005 1)" text-anchor="start" font-family='"Liberation Sans", sans-serif' font-size="36" fill="#2a2a2a">(a)</text>
<text transform="translate(913.8 28.6) scale(1.035 1)" text-anchor="start" font-family='"Liberation Sans", sans-serif' font-size="36" fill="#2a2a2a">(b)</text>
</svg>
</body>
</html>
